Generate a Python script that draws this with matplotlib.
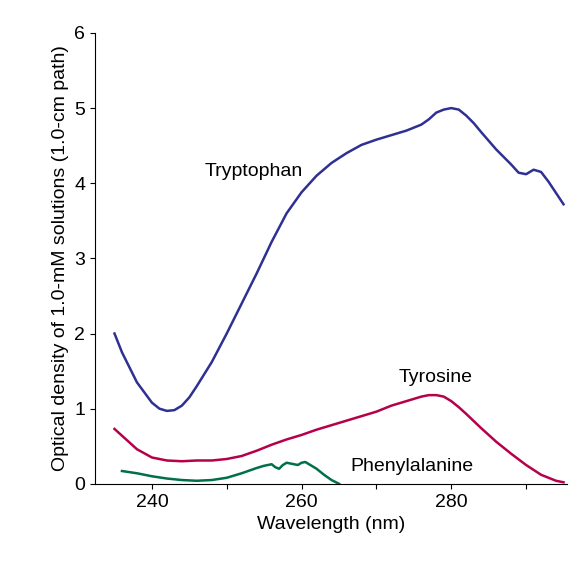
import matplotlib
matplotlib.use("Agg")
import matplotlib.pyplot as plt
plt.rcParams['font.family'] = ['Liberation Sans', 'DejaVu Sans']

trp_x = [235,236,238,240,241,242,243,244,245,246,248,250,252,254,256,258,260,262,264,266,268,270,272,274,276,277,278,279,280,281,282,283,284,286,288,289,290,291,292,293,295]
trp_y = [2.0,1.75,1.35,1.08,1.0,0.97,0.98,1.04,1.15,1.3,1.62,2.0,2.4,2.8,3.22,3.6,3.88,4.1,4.27,4.4,4.51,4.58,4.64,4.7,4.78,4.85,4.94,4.98,5.0,4.98,4.9,4.8,4.68,4.45,4.25,4.14,4.12,4.18,4.15,4.02,3.72]
tyr_x = [235,236,238,240,242,244,246,248,250,252,254,256,258,260,262,264,266,268,270,272,274,276,277,278,279,280,281,282,284,286,288,290,292,294,295]
tyr_y = [0.73,0.64,0.46,0.35,0.31,0.3,0.31,0.31,0.33,0.37,0.44,0.52,0.59,0.65,0.72,0.78,0.84,0.9,0.96,1.04,1.1,1.16,1.18,1.18,1.16,1.1,1.02,0.93,0.74,0.56,0.4,0.25,0.12,0.04,0.02]
phe_x = [236,238,240,242,244,246,248,250,252,254,255,256,256.5,257,257.5,258,259,259.5,260,260.5,261,262,263,264,265]
phe_y = [0.17,0.14,0.1,0.07,0.05,0.04,0.05,0.08,0.14,0.21,0.24,0.26,0.22,0.2,0.25,0.28,0.26,0.25,0.28,0.29,0.26,0.2,0.12,0.05,0.0]

fig = plt.figure(figsize=(5.83,5.78), dpi=100)
ax = fig.add_axes([0.163, 0.163, 0.81, 0.78])
ax.plot(trp_x, trp_y, color="#2e3192", lw=1.8)
ax.plot(tyr_x, tyr_y, color="#b5004a", lw=1.8)
ax.plot(phe_x, phe_y, color="#00704a", lw=1.8)
ax.set_xlim(232.4, 295.5)
ax.set_ylim(0, 6)
ax.set_xticks([240,250,260,270,280,290])
ax.set_xticklabels(["240","","260","","280",""])
ax.set_yticks(range(7))
for s in ["top","right"]:
    ax.spines[s].set_visible(False)
ax.tick_params(labelsize=14, direction="out")
ax.set_xlabel("Wavelength (nm)", fontsize=14)
ax.set_ylabel("Optical density of 1.0-mM solutions (1.0-cm path)", fontsize=14)
ax.text(247, 4.15, "Tryptophan", fontsize=14, va="center")
ax.text(273, 1.42, "Tyrosine", fontsize=14, va="center")
ax.text(266.5, 0.23, "Phenylalanine", fontsize=14, va="center")
fig.savefig("out.png")
